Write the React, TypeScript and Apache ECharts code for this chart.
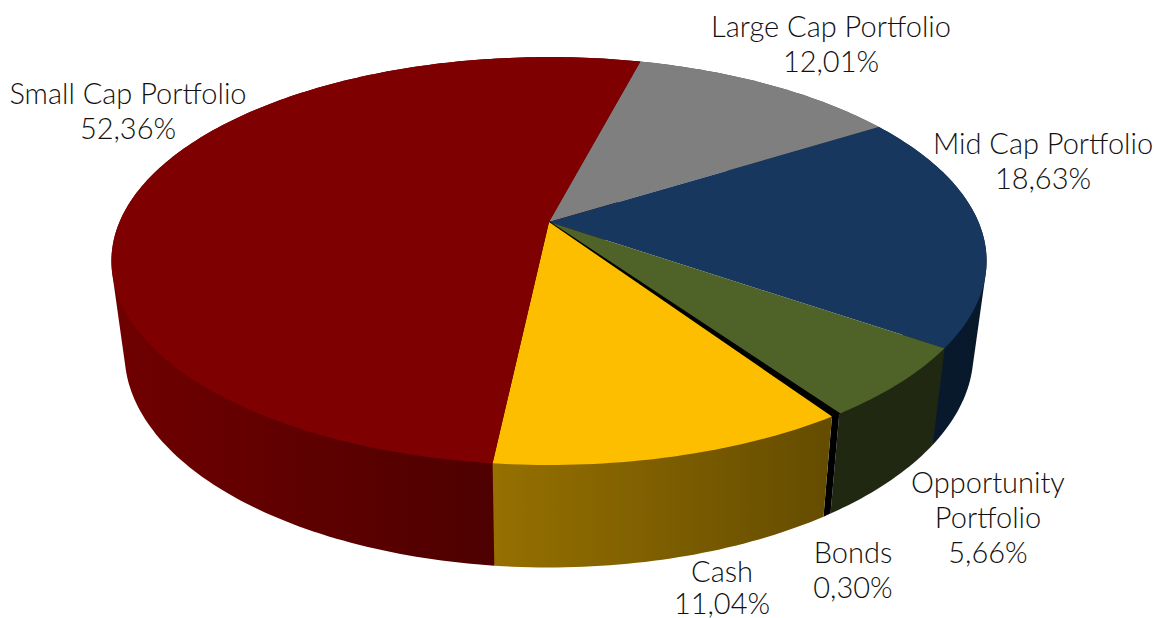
import React, { useEffect, useRef } from "react";
import * as echarts from "echarts";

const names = ["Large Cap Portfolio", "Mid Cap Portfolio", "Opportunity\nPortfolio", "Bonds", "Cash", "Small Cap Portfolio"];
const values = [12.01, 18.63, 5.66, 0.3, 11.04, 52.36];
const topColors = ["#7f7f7f", "#17375e", "#4f6228", "#000000", "#fdbe00", "#7f0000"];
const wallFrom = ["#4c4c4c", "#0b1b30", "#212812", "#000000", "#967000", "#700000"];
const wallTo = ["#4c4c4c", "#07182b", "#212812", "#000000", "#644c00", "#410000"];
const labelAt: [number, number][] = [[831, 43], [1043, 160], [988, 516], [853, 569], [722, 586], [128, 110]];
const labelLine = [35, 35, 35, 35, 32, 35];

const START_DEG = 14.6;
const CX = 549, CY = 222, A = 0.1912, B = 196.5, C = 429.5;
const total = values.reduce((a, b) => a + b, 0);
const starts: number[] = [];
values.reduce((acc, v) => { starts.push(acc); return acc + v; }, 0);

type P = [number, number];

function topPoint(deg: number): P {
  const t = (deg * Math.PI) / 180;
  const u = Math.sin(t), v = -Math.cos(t);
  const d = 1 - A * v;
  return [CX + (C * u) / d, CY + (B * v) / d];
}
function bottomPoint(p: P): P {
  return [CX + 0.97 * (p[0] - CX), 567.5 + 1.05 * (p[1] - 465)];
}
function arc(i: number, value: number): P[] {
  const a0 = START_DEG + (starts[i] / total) * 360;
  const a1 = a0 + (value / total) * 360;
  const n = Math.max(4, Math.ceil((a1 - a0) / 1));
  const out: P[] = [];
  for (let k = 0; k <= n; k++) out.push(topPoint(a0 + ((a1 - a0) * k) / n));
  return out;
}
function hull(pts: P[]): P[] {
  const s = pts.slice().sort((a, b) => a[0] - b[0] || a[1] - b[1]);
  const cross = (o: P, a: P, b: P) => (a[0] - o[0]) * (b[1] - o[1]) - (a[1] - o[1]) * (b[0] - o[0]);
  const build = (list: P[]) => {
    const h: P[] = [];
    for (const p of list) {
      while (h.length >= 2 && cross(h[h.length - 2], h[h.length - 1], p) <= 0) h.pop();
      h.push(p);
    }
    h.pop();
    return h;
  };
  return build(s).concat(build(s.slice().reverse()));
}

export default function App() {
  const ref = useRef<HTMLDivElement>(null);
  useEffect(() => {
    document.body.style.margin = "0";
    const chart = echarts.init(ref.current!, undefined, { renderer: "svg" });
    chart.setOption({
      animation: false,
      backgroundColor: "#ffffff",
      series: [
        {
          type: "custom",
          coordinateSystem: "none",
          silent: true,
          data: values,
          renderItem: (params: any, api: any) => {
            const i = params.dataIndex;
            const top = arc(i, api.value(0));
            const bottom = top.map(bottomPoint);
            const all = top.concat(bottom);
            const xs = all.map((p) => p[0]);
            return {
              type: "polygon",
              z2: i === 5 ? 0 : 1,
              shape: { points: hull(all) },
              style: {
                fill: new echarts.graphic.LinearGradient(
                  Math.min(...xs), 0, Math.max(...xs), 0,
                  [{ offset: 0, color: wallFrom[i] }, { offset: 1, color: wallTo[i] }],
                  true
                ),
              },
            };
          },
        },
        {
          type: "custom",
          coordinateSystem: "none",
          silent: true,
          data: values,
          renderItem: (params: any, api: any) => {
            const i = params.dataIndex;
            return {
              type: "polygon",
              z2: 2,
              shape: { points: [[CX, CY] as P].concat(arc(i, api.value(0))) },
              style: i === 3
                ? { fill: topColors[i], stroke: topColors[i], lineWidth: 1.5 }
                : { fill: topColors[i] },
            };
          },
        },
      ],
      graphic: names.map((n, i) => ({
        type: "text",
        x: labelAt[i][0],
        y: labelAt[i][1],
        z: 10,
        style: {
          text: `${n}\n${values[i].toFixed(2).replace(".", ",")}%`,
          font: '300 29px Lato, "Noto Sans", sans-serif',
          lineHeight: labelLine[i],
          fill: "#111111",
          align: "center",
          verticalAlign: "middle",
        },
      })),
    });
    return () => chart.dispose();
  }, []);
  return <div ref={ref} style={{ width: 1154, height: 618 }} />;
}
